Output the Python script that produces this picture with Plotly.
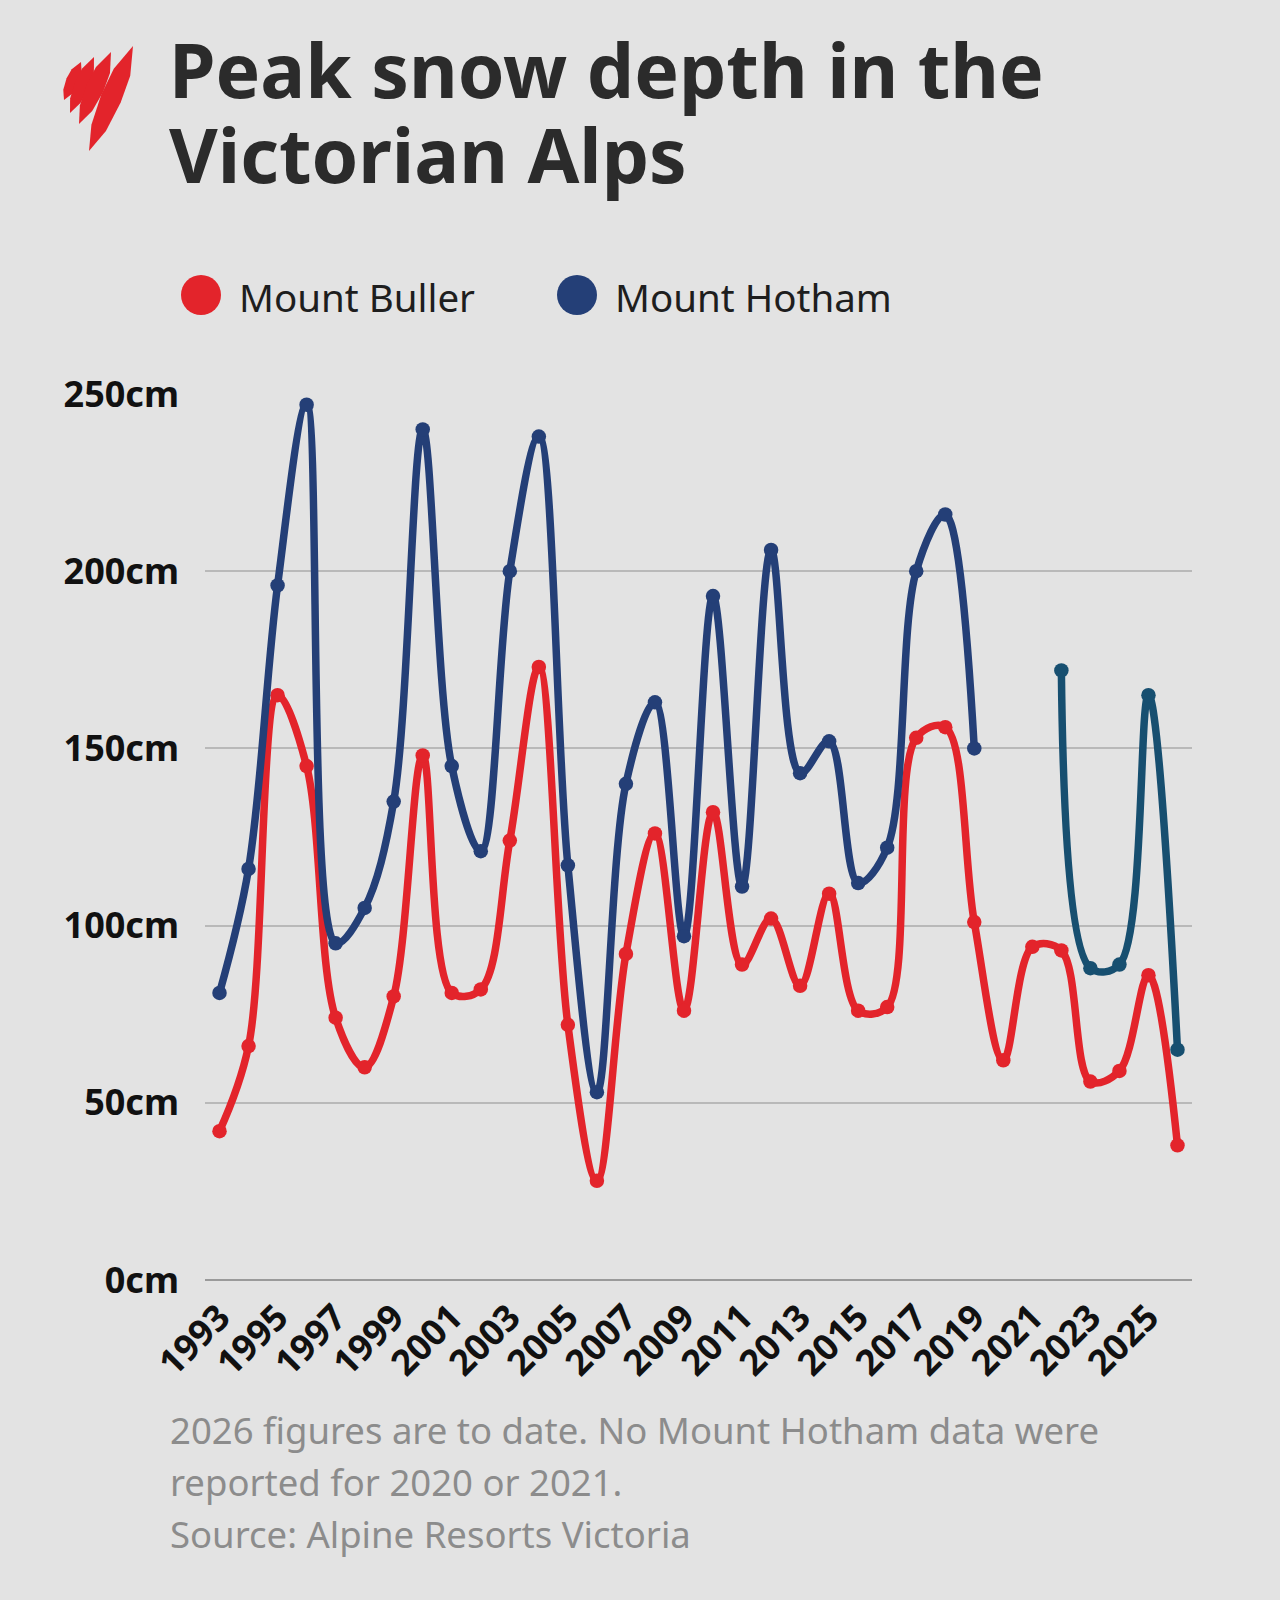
import plotly.graph_objects as go

# ---------------- data ----------------
years = list(range(1993, 2027))
buller = [42, 66, 165, 145, 74, 60, 80, 148, 81, 82, 124, 173, 72, 28, 92, 126,
          76, 132, 89, 102, 83, 109, 76, 77, 153, 156, 101, 62, 94, 93, 56, 59, 86, 38]
hotham_years_a = list(range(1993, 2020))
hotham_a = [81, 116, 196, 247, 95, 105, 135, 240, 145, 121, 200, 238, 117, 53, 140, 163,
            97, 193, 111, 206, 143, 152, 112, 122, 200, 216, 150]
hotham_years_b = list(range(2022, 2027))
hotham_b = [172, 88, 89, 165, 65]
x_ticks = list(range(1993, 2026, 2))
y_ticks = [0, 50, 100, 150, 200, 250]
y_labels = [f"{v}cm" for v in y_ticks]

# ---------------- style ----------------
W, H = 1280, 1600
L, R, T, B = 205, 1192, 394, 1280
PW, PH = R - L, B - T
BG = "#e3e3e3"
RED = "#e3242b"
NAVY = "#243f77"
TEAL = "#174f70"
FONT = "Noto Sans"


def px2paper(px, py):
    return (px - L) / PW, (B - py) / PH


fig = go.Figure()

line_kw = dict(shape="spline", smoothing=1.0, width=7.5)
fig.add_trace(go.Scatter(x=years, y=buller, mode="lines+markers", name="Mount Buller",
                         line=dict(color=RED, **line_kw), marker=dict(color=RED, size=14.5),
                         cliponaxis=False, showlegend=False))
fig.add_trace(go.Scatter(x=hotham_years_a, y=hotham_a, mode="lines+markers", name="Mount Hotham",
                         line=dict(color=NAVY, **line_kw), marker=dict(color=NAVY, size=14.5),
                         cliponaxis=False, showlegend=False))
fig.add_trace(go.Scatter(x=hotham_years_b, y=hotham_b, mode="lines+markers", name="Mount Hotham",
                         line=dict(color=TEAL, **line_kw), marker=dict(color=TEAL, size=14.5),
                         cliponaxis=False, showlegend=False))

shapes = []
annotations = []

# ---- logo (SBS-style strokes) ----
def leaf(top, bottom, w):
    (tx, ty), (bx, by) = top, bottom
    dx, dy = bx - tx, by - ty
    n = (dx * dx + dy * dy) ** 0.5
    ux, uy = dx / n, dy / n
    perx, pery = -uy, ux
    pts = [top]
    for t, k in [(0.25, 0.85), (0.5, 1.0), (0.78, 0.75)]:
        pts.append((tx + dx * t + perx * w * k, ty + dy * t + pery * w * k))
    pts.append(bottom)
    for t, k in [(0.78, 0.75), (0.5, 1.0), (0.25, 0.85)]:
        pts.append((tx + dx * t - perx * w * k, ty + dy * t - pery * w * k))
    path = ""
    for i, (x, y) in enumerate(pts):
        a, b = px2paper(x, y)
        path += ("M" if i == 0 else "L") + f"{a:.5f},{b:.5f} "
    return path + "Z"

for top, bottom, w in [((81, 62), (64, 100), 6.5), ((94, 57), (70, 113), 7.5),
                       ((111, 52), (79, 124), 9), ((133, 46), (89, 151), 10.5)]:
    shapes.append(dict(type="path", xref="paper", yref="paper", path=leaf(top, bottom, w),
                       fillcolor=RED, line=dict(width=0), layer="above"))

# ---- title ----
for txt, base in [("Peak snow depth in the", 94), ("Victorian Alps", 179)]:
    x, y = px2paper(167, base - 25)
    annotations.append(dict(text=f"<b>{txt}</b>", xref="paper", yref="paper", x=x, y=y,
                            xanchor="left", yanchor="middle", showarrow=False,
                            font=dict(family=FONT, size=75, color="#2b2b2b")))

# ---- legend (manual) ----
for cx, color, label in [(201, RED, "Mount Buller"), (577, NAVY, "Mount Hotham")]:
    ax, ay = px2paper(cx, 295)
    shapes.append(dict(type="circle", xref="paper", yref="paper", xsizemode="pixel",
                       ysizemode="pixel", xanchor=ax, yanchor=ay, x0=-20, x1=20, y0=-20, y1=20,
                       fillcolor=color, line=dict(width=0)))
    tx, ty = px2paper(cx + 36, 297)
    annotations.append(dict(text=label, xref="paper", yref="paper", x=tx, y=ty,
                            xanchor="left", yanchor="middle", showarrow=False,
                            font=dict(family=FONT, size=38.5, color="#1e1e1e")))

# ---- footnote ----
for txt, base in [("2026 figures are to date. No Mount Hotham data were", 1443),
                  ("reported for 2020 or 2021.", 1495),
                  ("Source: Alpine Resorts Victoria", 1547)]:
    x, y = px2paper(168, base - 13)
    annotations.append(dict(text=txt, xref="paper", yref="paper", x=x, y=y,
                            xanchor="left", yanchor="middle", showarrow=False,
                            font=dict(family=FONT, size=36.5, color="#8c8c8c")))

fig.update_layout(
    width=W, height=H,
    margin=dict(l=L, r=W - R, t=T, b=H - B, pad=0),
    paper_bgcolor=BG, plot_bgcolor=BG,
    showlegend=False,
    shapes=shapes, annotations=annotations,
    xaxis=dict(range=[1992.5, 2026.5], tickmode="array", tickvals=x_ticks,
               ticktext=[str(v) for v in x_ticks], tickangle=-45,
               showgrid=False, zeroline=False, showline=False, ticks="",
               tickfont=dict(family=FONT, size=36, color="#111", weight="bold"),
               ticklabelstandoff=8),
    yaxis=dict(range=[0, 250], tickmode="array", tickvals=y_ticks, ticktext=y_labels,
               showgrid=True, gridcolor="#b9b9b9", gridwidth=1.5,
               zeroline=True, zerolinecolor="#9a9a9a", zerolinewidth=2,
               showline=False, ticks="",
               tickfont=dict(family=FONT, size=36, color="#111", weight="bold"),
               ticklabelstandoff=25),
)

fig.write_html("out.html", config={"displayModeBar": False},
               post_script="document.body.style.margin='0';document.body.style.background='#e3e3e3';")
